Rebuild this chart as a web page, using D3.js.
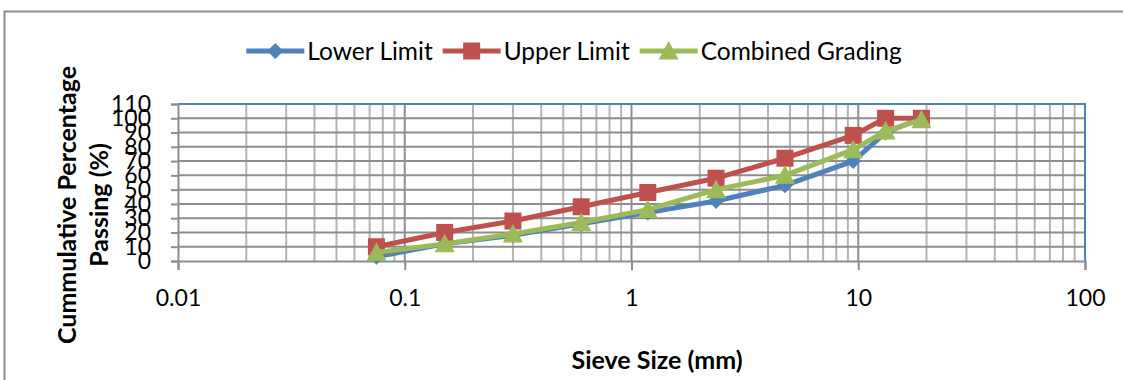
<!DOCTYPE html>
<html>
<head>
<meta charset="utf-8">
<script src="https://cdn.jsdelivr.net/npm/d3@7"></script>
<style>
  body { margin: 0; background: #fff; }
  text { font-family: Lato, "Open Sans", sans-serif; fill: #000; }
</style>
</head>
<body>
<script>
// sieve sizes (mm) and cumulative % passing
const sieveSizes = [0.075, 0.15, 0.3, 0.6, 1.18, 2.36, 4.75, 9.5, 13.2, 19];
const lowerLimit = [3, 12, 18, 26, 34, 42, 53, 70, 90, 100];
const upperLimit = [10, 20, 28, 38, 48, 58, 72, 88, 100, 100];
const combinedGrading = [6, 12, 19, 27, 36, 50, 60, 78, 91, 99];

const seriesNames = ["Lower Limit", "Upper Limit", "Combined Grading"];
const xTicks = [0.01, 0.1, 1, 10, 100];
const yTicks = [0, 10, 20, 30, 40, 50, 60, 70, 80, 90, 100, 110];

const width = 1123;
const height = 380;

const svg = d3.select("body")
  .append("svg")
  .attr("width", width)
  .attr("height", height);

// outer chart frame
svg.append("rect")
  .attr("x", 4.5).attr("y", 11.5)
  .attr("width", 1130).attr("height", 400)
  .attr("fill", "none")
  .attr("stroke", "#8c8c8c")
  .attr("stroke-width", 2);

const x = d3.scaleLog()
  .domain([0.01, 100])
  .range([178, 1085]);

const y = d3.scaleLinear()
  .domain([0, 110])
  .range([261, 104]);

// minor vertical grid (2..9 in each decade)
const minor = [];
xTicks.slice(0, -1).forEach(d => {
  for (let k = 2; k <= 9; k++) minor.push(d * k);
});
svg.append("g")
  .selectAll("line")
  .data(minor)
  .join("line")
  .attr("x1", d => x(d)).attr("x2", d => x(d))
  .attr("y1", y(110)).attr("y2", y(0))
  .attr("stroke", "#b4b4b4")
  .attr("stroke-width", 2);

// major vertical grid
svg.append("g")
  .selectAll("line")
  .data(xTicks.slice(1, -1))
  .join("line")
  .attr("x1", d => x(d)).attr("x2", d => x(d))
  .attr("y1", y(110)).attr("y2", y(0))
  .attr("stroke", "#8e8e8e")
  .attr("stroke-width", 2);

// horizontal grid
svg.append("g")
  .selectAll("line")
  .data(yTicks.slice(1, -1))
  .join("line")
  .attr("x1", x.range()[0]).attr("x2", x.range()[1])
  .attr("y1", d => y(d)).attr("y2", d => y(d))
  .attr("stroke", "#8e8e8e")
  .attr("stroke-width", 2);

// plot area border (top / right in blue)
svg.append("path")
  .attr("d", `M${x.range()[0]},${y(110)}H${x.range()[1]}V${y(0)}`)
  .attr("fill", "none")
  .attr("stroke", "#4f81bd")
  .attr("stroke-width", 2);

const xAxis = d3.axisBottom(x)
  .tickValues(xTicks)
  .tickFormat(d => String(d))
  .tickSize(9)
  .tickPadding(20);
const gx = svg.append("g")
  .attr("transform", `translate(0, ${y(0)})`)
  .call(xAxis);

const yAxis = d3.axisLeft(y)
  .tickValues(yTicks)
  .tickSize(7)
  .tickPadding(20);
const gy = svg.append("g")
  .attr("transform", `translate(${x.range()[0]}, 0)`)
  .call(yAxis);

[gx, gy].forEach(g => {
  g.select(".domain").attr("stroke", "#8e8e8e").attr("stroke-width", 2);
  g.selectAll(".tick line").attr("stroke", "#8e8e8e").attr("stroke-width", 2);
  g.selectAll(".tick text")
    .style("font-family", "Lato, 'Open Sans', sans-serif")
    .style("font-size", "23px")
    .attr("fill", "#000");
});

// axis titles
svg.append("text")
  .attr("x", 657).attr("y", 369)
  .attr("text-anchor", "middle")
  .style("font-size", "25px")
  .style("font-weight", "bold")
  .text("Sieve Size (mm)");

const yTitle = svg.append("text")
  .attr("transform", "translate(76, 205) rotate(-90)")
  .attr("text-anchor", "middle")
  .style("font-size", "25px")
  .style("font-weight", "bold");
yTitle.append("tspan").attr("x", 0).attr("dy", 0).text("Cummulative Percentage");
yTitle.append("tspan").attr("x", 0).attr("dy", 32).text("Passing (%)");

// markers
const markers = {
  diamond: r => `M0,${-r}L${r},0L0,${r}L${-r},0Z`,
  square: r => `M${-r},${-r}H${r}V${r}H${-r}Z`,
  triangle: r => `M0,${-r}L${r},${r * 0.85}L${-r},${r * 0.85}Z`
};

const series = [
  { name: seriesNames[0], values: lowerLimit, color: "#4f81bd", marker: markers.diamond(8) },
  { name: seriesNames[1], values: upperLimit, color: "#c0504d", marker: markers.square(8.5) },
  { name: seriesNames[2], values: combinedGrading, color: "#9bbb59", marker: markers.triangle(10) }
];

const line = d3.line()
  .x(d => x(d[0]))
  .y(d => y(d[1]));

series.forEach(s => {
  const pts = sieveSizes.map((d, i) => [d, s.values[i]]);
  const g = svg.append("g");
  g.append("path")
    .datum(pts)
    .attr("d", line)
    .attr("fill", "none")
    .attr("stroke", s.color)
    .attr("stroke-width", 5)
    .attr("stroke-linejoin", "round");
  g.selectAll("path.mark")
    .data(pts)
    .join("path")
    .attr("class", "mark")
    .attr("transform", d => `translate(${x(d[0])},${y(d[1])})`)
    .attr("d", s.marker)
    .attr("fill", s.color);
});

// legend
const legend = svg.append("g");
let lx = 0;
series.forEach(s => {
  const item = legend.append("g").attr("transform", `translate(${lx},0)`);
  item.append("line")
    .attr("x1", 0).attr("x2", 58)
    .attr("y1", 0).attr("y2", 0)
    .attr("stroke", s.color)
    .attr("stroke-width", 5);
  item.append("path")
    .attr("transform", "translate(29,0)")
    .attr("d", s.marker)
    .attr("fill", s.color);
  const t = item.append("text")
    .attr("x", 61).attr("y", 0)
    .attr("dy", "0.35em")
    .style("font-size", "24.5px")
    .text(s.name);
  lx += 61 + t.node().getComputedTextLength() + 10;
});
legend.attr("transform", `translate(${574 - (lx - 10) / 2}, 51)`);
</script>
</body>
</html>
